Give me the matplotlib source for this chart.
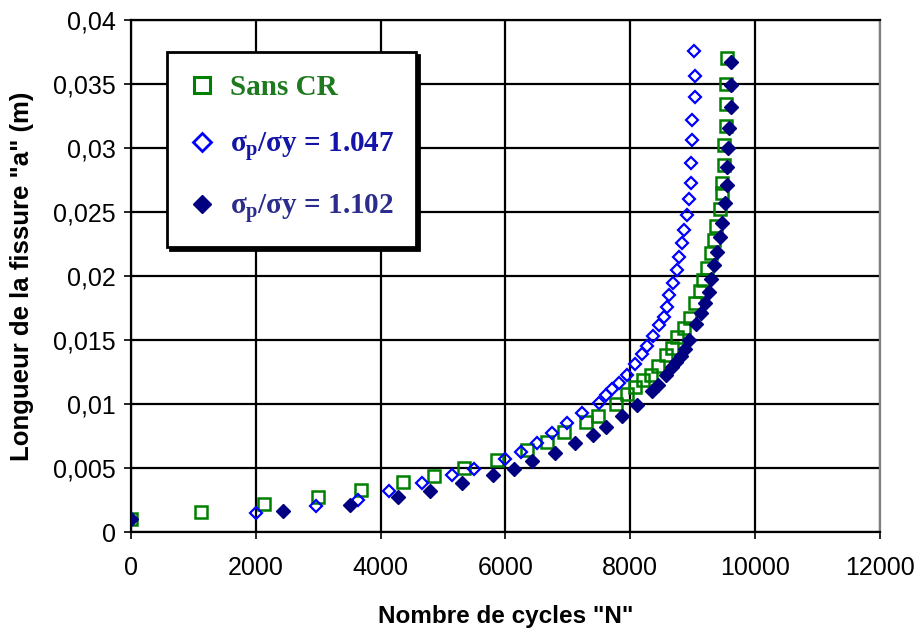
import matplotlib
matplotlib.use("Agg")
import matplotlib.pyplot as plt
from matplotlib.lines import Line2D

plt.rcParams['font.family'] = ['Liberation Sans', 'DejaVu Sans']
plt.rcParams['mathtext.fontset'] = 'custom'
plt.rcParams['mathtext.rm'] = 'Liberation Serif:bold'
plt.rcParams['mathtext.it'] = 'Liberation Serif:bold'
plt.rcParams['mathtext.bf'] = 'Liberation Serif:bold'

# Sans CR (green open squares)
n_sans = [0, 1120, 2130, 2990, 3680, 4350, 4860, 5340, 5860, 6340, 6660, 6944, 7296,
          7488, 7776, 7952, 8080, 8208, 8336, 8448, 8576, 8672, 8752, 8864, 8960, 9040,
          9120, 9168, 9232, 9296, 9344, 9376, 9440, 9472, 9472, 9504, 9504, 9536, 9536,
          9536, 9552]
a_sans = [0.0010, 0.0016, 0.0022, 0.0027, 0.0033, 0.0039, 0.0044, 0.0050, 0.0056, 0.0064,
          0.0070, 0.0078, 0.0086, 0.0091, 0.0100, 0.0108, 0.0113, 0.0119, 0.0123, 0.0130,
          0.0138, 0.0144, 0.0152, 0.0159, 0.0167, 0.0179, 0.0188, 0.0197, 0.0206, 0.0218,
          0.0228, 0.0239, 0.0252, 0.0265, 0.0273, 0.0287, 0.0302, 0.0317, 0.0334, 0.0350,
          0.0370]

# sigma_p/sigma_y = 1.047 (blue open diamonds)
n_1047 = [0, 2000, 2960, 3632, 4128, 4656, 5136, 5488, 5984, 6256, 6512, 6752, 6992, 7232,
          7504, 7616, 7712, 7824, 7952, 8080, 8192, 8272, 8368, 8464, 8544, 8592, 8624,
          8688, 8752, 8784, 8832, 8864, 8912, 8944, 8976, 8976, 8992, 8992, 9040, 9040,
          9024]
a_1047 = [0.0010, 0.00148, 0.00203, 0.00250, 0.00320, 0.00383, 0.00445, 0.00492, 0.00570,
          0.00625, 0.00695, 0.00773, 0.00852, 0.00930, 0.01008, 0.01070, 0.01117, 0.01164,
          0.01227, 0.01313, 0.01391, 0.01453, 0.01531, 0.01617, 0.01680, 0.01758, 0.01852,
          0.01945, 0.02047, 0.02148, 0.02258, 0.02359, 0.02477, 0.02602, 0.02727, 0.02883,
          0.03063, 0.03219, 0.03398, 0.03563, 0.03758]

# sigma_p/sigma_y = 1.102 (navy filled diamonds)
n_1102 = [0, 2432, 3504, 4272, 4784, 5296, 5792, 6144, 6432, 6800, 7120, 7408, 7616, 7872,
          8112, 8352, 8448, 8576, 8672, 8736, 8816, 8880, 8944, 9056, 9136, 9200, 9264,
          9296, 9344, 9392, 9440, 9472, 9520, 9552, 9552, 9568, 9584, 9616, 9616, 9616]
a_1102 = [0.00102, 0.00164, 0.00211, 0.00273, 0.00320, 0.00383, 0.00445, 0.00492, 0.00555,
          0.00617, 0.00695, 0.00758, 0.00820, 0.00906, 0.00992, 0.01102, 0.01148, 0.01227,
          0.01289, 0.01328, 0.01375, 0.01430, 0.01500, 0.01625, 0.01711, 0.01789, 0.01875,
          0.01977, 0.02086, 0.02188, 0.02305, 0.02414, 0.02570, 0.02711, 0.02852, 0.03000,
          0.03156, 0.03320, 0.03492, 0.03672]

x_ticks = [0, 2000, 4000, 6000, 8000, 10000, 12000]
y_ticks = [0, 0.005, 0.01, 0.015, 0.02, 0.025, 0.03, 0.035, 0.04]
y_tick_labels = ['0', '0,005', '0,01', '0,015', '0,02', '0,025', '0,03', '0,035', '0,04']

labels = ['Sans CR', r'$\sigma_{p}$/$\sigma$y = 1.047', r'$\sigma_{p}$/$\sigma$y = 1.102']

fig = plt.figure(figsize=(9.2, 6.3), dpi=100)
ax = fig.add_axes([131/920, 98/630, 749/920, 512/630])

c_green = '#008000'
c_blue = '#0000FF'
c_navy = '#000080'

ax.plot(n_sans, a_sans, linestyle='none', marker='s', markersize=8.5,
        markerfacecolor='none', markeredgecolor=c_green, markeredgewidth=1.8, zorder=3)
ax.plot(n_1047, a_1047, linestyle='none', marker='D', markersize=6.2,
        markerfacecolor='none', markeredgecolor=c_blue, markeredgewidth=1.6, zorder=4)
ax.plot(n_1102, a_1102, linestyle='none', marker='D', markersize=7.0,
        markerfacecolor=c_navy, markeredgecolor=c_navy, markeredgewidth=1.0, zorder=5)

ax.set_xlim(0, 12000)
ax.set_ylim(0, 0.04)
ax.set_xticks(x_ticks)
ax.set_xticklabels([str(v) for v in x_ticks])
ax.set_yticks(y_ticks)
ax.set_yticklabels(y_tick_labels)
ax.tick_params(axis='both', labelsize=18, direction='out', length=5, width=1.2,
               color='black')
ax.tick_params(axis='y', pad=6)
ax.tick_params(axis='x', pad=12.5)

ax.grid(True, color='black', linewidth=1.6, zorder=1)
ax.set_axisbelow(True)
for side in ['left', 'bottom', 'top']:
    ax.spines[side].set_color('black')
    ax.spines[side].set_linewidth(1.6)
ax.spines['right'].set_color('#808080')
ax.spines['right'].set_linewidth(1.6)

ax.set_xlabel('Nombre de cycles "N"', fontsize=17.5, fontweight='bold', labelpad=18)
ax.set_ylabel('Longueur de la fissure "a" (m)', fontsize=18.5, fontweight='bold',
              va='center')
ax.yaxis.set_label_coords(-0.1455, 0.5)

handles = [
    Line2D([], [], linestyle='none', marker='s', markersize=11, markerfacecolor='none',
           markeredgecolor=c_green, markeredgewidth=2.2),
    Line2D([], [], linestyle='none', marker='D', markersize=9, markerfacecolor='none',
           markeredgecolor=c_blue, markeredgewidth=2.0),
    Line2D([], [], linestyle='none', marker='D', markersize=9.5, markerfacecolor=c_navy,
           markeredgecolor=c_navy),
]
leg = ax.legend(handles, labels, loc='upper left', bbox_to_anchor=(0.048, 0.9375),
                frameon=True, fancybox=False, edgecolor='black', framealpha=1,
                shadow={'color': 'black', 'alpha': 1},
                prop={'family': 'Liberation Serif', 'weight': 'bold', 'size': 21},
                handlelength=0.9, handletextpad=0.5, labelspacing=1.0,
                borderpad=0.75, borderaxespad=0)
leg.get_frame().set_linewidth(2.0)
leg.set_zorder(10)
text_colors = ['#1f7a1f', '#1414a8', '#2c2c8c']
for t, c in zip(leg.get_texts(), text_colors):
    t.set_color(c)

fig.savefig('out.png', dpi=100)
